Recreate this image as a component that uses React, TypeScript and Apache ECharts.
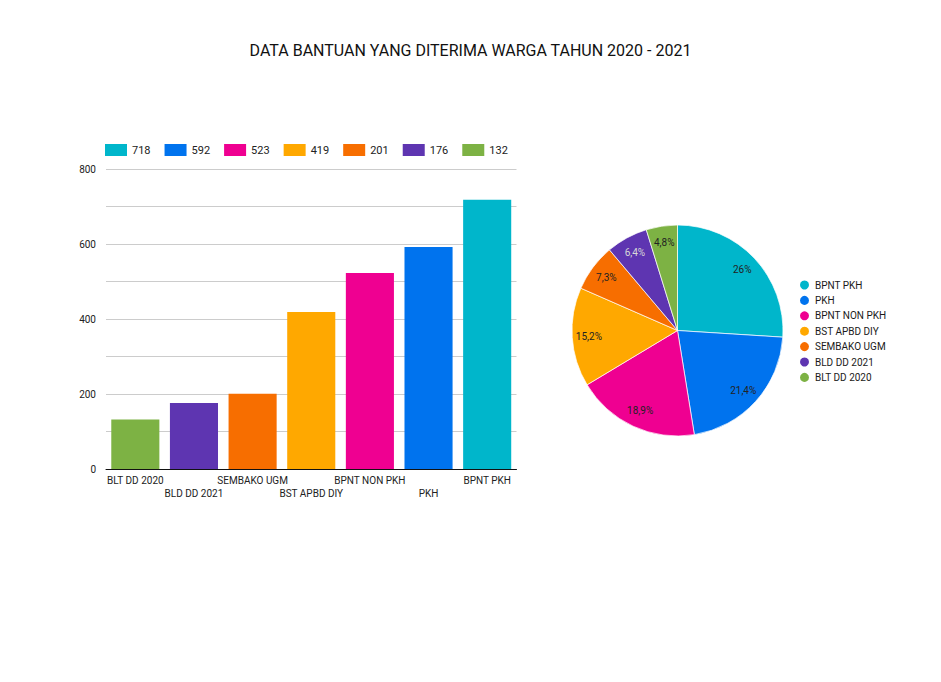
import React, { useEffect, useRef } from 'react';
import * as echarts from 'echarts';

// categories in bar order (left to right)
const categories = ['BLT DD 2020', 'BLD DD 2021', 'SEMBAKO UGM', 'BST APBD DIY', 'BPNT NON PKH', 'PKH', 'BPNT PKH'];
const values = [132, 176, 201, 419, 523, 592, 718];
const colors = ['#7db244', '#5e35b1', '#f76e00', '#ffa800', '#ef0091', '#0073ee', '#00b6cb'];
const yMax = 800;
const yStep = 100;
const yLabelStep = 200;

const total = values.reduce((a, b) => a + b, 0);
const pct = (v: number) => {
  let s = ((v / total) * 100).toFixed(1);
  if (s.endsWith('.0')) s = s.slice(0, -2);
  return s.replace('.', ',') + '%';
};

const App: React.FC = () => {
  const chartRef = useRef<HTMLDivElement>(null);

  useEffect(() => {
    const chart = echarts.init(chartRef.current!, null, { renderer: 'svg' });

    // pie and legends go largest first
    const order = values.map((_, i) => i).reverse();

    const barSeries = order.map((i) => ({
      type: 'bar',
      name: String(values[i]),
      stack: 'all',
      barWidth: '82%',
      itemStyle: { color: colors[i] },
      data: values.map((v, j) => (j === i ? v : null)),
    }));

    const pieData = order.map((i) => ({
      name: categories[i],
      value: values[i],
      itemStyle: { color: colors[i] },
    }));

    const options: any = {
      animation: false,
      textStyle: { fontFamily: 'Roboto' },
      title: {
        text: 'DATA BANTUAN YANG DITERIMA WARGA TAHUN 2020 - 2021',
        left: 'center',
        top: 37,
        textStyle: { fontFamily: 'Roboto', fontSize: 16, fontWeight: 'normal', color: '#111' },
      },
      legend: [
        {
          data: order.map((i) => String(values[i])),
          left: 100,
          top: 139,
          icon: 'rect',
          itemWidth: 22,
          itemHeight: 12,
          itemGap: 14,
          selectedMode: false,
          textStyle: { fontSize: 11, color: '#222' },
        },
        {
          data: order.map((i) => categories[i]),
          orient: 'vertical',
          left: 793,
          top: 273.5,
          icon: 'circle',
          itemWidth: 11,
          itemHeight: 11,
          itemGap: 2.4,
          selectedMode: false,
          textStyle: { fontSize: 10, color: '#1a1a1a' },
        },
      ],
      grid: { left: 106, right: 424.5, top: 169, bottom: 213 },
      xAxis: {
        type: 'category',
        data: categories,
        axisTick: { show: false },
        axisLine: { lineStyle: { color: '#111', width: 1 } },
        axisLabel: {
          interval: 0,
          fontSize: 10,
          lineHeight: 13,
          margin: 5,
          color: '#222',
          formatter: (v: string, i: number) => (i % 2 ? '\n' + v : v),
        },
      },
      yAxis: {
        type: 'value',
        min: 0,
        max: yMax,
        interval: yStep,
        axisLine: { show: false },
        axisTick: { show: false },
        axisLabel: {
          fontSize: 10,
          color: '#222',
          margin: 10,
          formatter: (v: number) => (v % yLabelStep === 0 ? String(v) : ''),
        },
        splitLine: { lineStyle: { color: '#cccccc', width: 1 } },
      },
      series: [
        ...barSeries,
        {
          type: 'pie',
          center: [677.5, 330.5],
          radius: 105.5,
          startAngle: 90,
          label: { show: false },
          labelLine: { show: false },
          itemStyle: { borderColor: '#fff', borderWidth: 0.7 },
          data: pieData,
        },
        {
          // transparent ring used to place the percent labels further out
          type: 'pie',
          center: [677.5, 330.5],
          radius: [66, 105.5],
          startAngle: 90,
          silent: true,
          labelLine: { show: false },
          itemStyle: { color: 'rgba(0,0,0,0)' },
          label: {
            show: true,
            position: 'inside',
            fontSize: 10,
            color: '#222',
            formatter: (p: any) => pct(p.value),
          },
          data: order.map((i) => ({
            name: categories[i],
            value: values[i],
            itemStyle: { color: 'rgba(0,0,0,0)' },
            label: categories[i] === 'BLD DD 2021' ? { color: '#d8d8d8' } : undefined,
          })),
        },
      ],
    };

    chart.setOption(options);

    return () => {
      chart.dispose();
    };
  }, []);

  return (
    <div
      ref={chartRef}
      style={{ position: 'fixed', left: 0, top: 0, width: '941px', height: '682px', background: '#fff' }}
    />
  );
};

export default App;
